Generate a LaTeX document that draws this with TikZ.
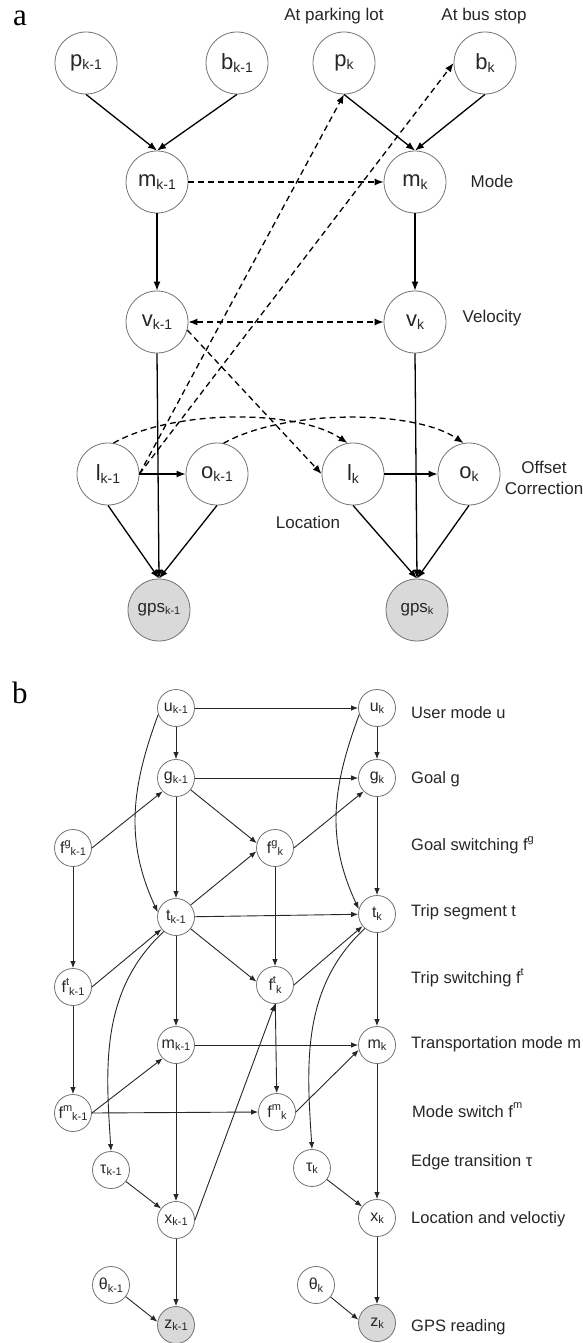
\documentclass[tikz,border=0pt]{standalone}
\usepackage{fontspec}
\setmainfont{Liberation Sans}
\newfontfamily\serifpanel{Liberation Serif}
\usetikzlibrary{arrows.meta}
\newcommand\bigsub[1]{\raisebox{-0.12em}{\fontsize{14}{16}\selectfont #1}}
\newcommand\gsub[1]{\raisebox{-0.12em}{\fontsize{11}{13}\selectfont #1}}
\newcommand\smsub[1]{\raisebox{-0.15em}{\fontsize{11}{13}\selectfont #1}}
\newcommand\smsup[1]{\raisebox{0.45em}{\fontsize{11}{13}\selectfont #1}}
\newcommand\lblsup[1]{\raisebox{0.5em}{\fontsize{11}{13}\selectfont #1}}
\begin{document}
\begin{tikzpicture}[x=1pt,y=-1pt,
 anode/.style={circle,draw=black!55,line width=0.8pt,minimum size=62pt,inner sep=0pt,font=\fontsize{22}{26}\selectfont,text=black!85},
 bnode/.style={circle,draw=black!55,line width=0.8pt,minimum size=37pt,inner sep=0pt,font=\fontsize{16}{19}\selectfont,text=black!85},
 obs/.style={fill=black!15},
 aarr/.style={-{Latex[length=9pt,width=7pt]},line width=1.3pt},
 adash/.style={aarr,dash pattern=on 6pt off 4pt},
 adashboth/.style={{Latex[length=9pt,width=7pt]}-{Latex[length=9pt,width=7pt]},line width=1.3pt,dash pattern=on 6pt off 4pt},
 barr/.style={-{Latex[length=7pt,width=5.5pt]},line width=0.9pt,draw=black!85},
 alabel/.style={font=\fontsize{17}{21}\selectfont,align=center,text=black!85},
 blabel/.style={font=\fontsize{16.5}{20}\selectfont,anchor=west,inner sep=0pt,text=black!85},
 panel/.style={font=\serifpanel\fontsize{31}{33}\selectfont,inner sep=0pt}
]
\useasboundingbox (0,0) rectangle (583,1343);

% ---------------- panel a ----------------
\node[panel] (pa) at (20,18) {a};
\node[alabel] (lpark) at (334,16) {At parking lot};
\node[alabel] (lbus) at (484,16) {At bus stop};
\node[alabel] (lmode) at (492,181) {Mode};
\node[alabel] (lvel) at (492,318) {Velocity};
\node[alabel] (lloc) at (308,522) {Location};
\node[alabel] (loff) at (544,478) {Offset\\Correction};

\node[anode] (p1) at (86,63) {p\bigsub{k-1}};
\node[anode] (b1) at (237,63) {b\bigsub{k-1}};
\node[anode] (p2) at (344,63) {p\bigsub{k}};
\node[anode] (b2) at (485,63) {b\bigsub{k}};
\node[anode] (m1) at (157,182) {m\bigsub{k-1}};
\node[anode] (m2) at (415,182) {m\bigsub{k}};
\node[anode] (v1) at (157,322) {v\bigsub{k-1}};
\node[anode] (v2) at (415,322) {v\bigsub{k}};
\node[anode] (l1) at (108,474) {l\bigsub{k-1}};
\node[anode] (o1) at (217,474) {o\bigsub{k-1}};
\node[anode] (l2) at (353,474) {l\bigsub{k}};
\node[anode] (o2) at (469,474) {o\bigsub{k}};
\node[anode,obs,font=\fontsize{17}{20}\selectfont] (gps1) at (159,610) {gps\gsub{k-1}};
\node[anode,obs,font=\fontsize{17}{20}\selectfont] (gps2) at (417,610) {gps\gsub{k}};

\draw[aarr] (p1.south) -- (m1.north);
\draw[aarr] (b1.south) -- (m1.north);
\draw[aarr] (p2.south) -- (m2.north);
\draw[aarr] (b2.south) -- (m2.north);
\draw[adash] (m1) -- (m2);
\draw[aarr] (m1) -- (v1);
\draw[aarr] (m2) -- (v2);
\draw[adashboth] (v1) -- (v2);
\draw[adash] (v1.-15) -- (l2.west);
\draw[adash] (l1.east) -- (p2.south);
\draw[adash] (l1.east) -- (b2.west);
\draw[adash] (l1.80) .. controls +(60,-34) and +(-50,-34) .. (l2.100);
\draw[adash] (o1.78) .. controls +(60,-34) and +(-50,-34) .. (o2.100);
\draw[aarr] (l1) -- (o1);
\draw[aarr] (l2) -- (o2);
\draw[aarr] (v1.south) -- (gps1.north);
\draw[aarr] (l1.south) -- (gps1.north);
\draw[aarr] (o1.south) -- (gps1.north);
\draw[aarr] (v2.south) -- (gps2.north);
\draw[aarr] (l2.south) -- (gps2.north);
\draw[aarr] (o2.south) -- (gps2.north);

% ---------------- panel b ----------------
\node[panel] (pb) at (20,693) {b};
\node[blabel] (lu) at (411,713) {User mode u};
\node[blabel] (lg) at (411,779) {Goal g};
\node[blabel] (lfg) at (411,845) {Goal switching f\lblsup{g}};
\node[blabel] (lt) at (411,912) {Trip segment t};
\node[blabel] (lft) at (411,978) {Trip switching f\lblsup{t}};
\node[blabel] (lm) at (411,1044) {Transportation mode m};
\node[blabel] (lfm) at (412,1110) {Mode switch f\lblsup{m}};
\node[blabel] (ltau) at (411,1162) {Edge transition τ};
\node[blabel] (lx) at (411,1219) {Location and veloctiy};
\node[blabel] (lz) at (411,1327) {GPS reading};

\node[bnode] (u1) at (176,708) {u\smsub{k-1}};
\node[bnode] (u2) at (377,708) {u\smsub{k}};
\node[bnode] (g1) at (176,778) {g\smsub{k-1}};
\node[bnode] (g2) at (377,778) {g\smsub{k}};
\node[bnode] (fg1) at (73,848) {f\smsup{g}\smsub{k-1}};
\node[bnode] (fg2) at (275,848) {f\smsup{g}\smsub{k}};
\node[bnode] (t1) at (176,917) {t\smsub{k-1}};
\node[bnode] (t2) at (377,914) {t\smsub{k}};
\node[bnode] (ft1) at (73,987) {f\smsup{t}\smsub{k-1}};
\node[bnode] (ft2) at (275,985) {f\smsup{t}\smsub{k}};
\node[bnode] (bm1) at (176,1045) {m\smsub{k-1}};
\node[bnode] (bm2) at (377,1045) {m\smsub{k}};
\node[bnode] (fm1) at (73,1113) {f\smsup{m}\smsub{k-1}};
\node[bnode] (fm2) at (277,1112) {f\smsup{m}\smsub{k}};
\node[bnode] (tau1) at (111,1170) {τ\smsub{k-1}};
\node[bnode] (tau2) at (312,1168) {τ\smsub{k}};
\node[bnode] (x1) at (176,1220) {x\smsub{k-1}};
\node[bnode] (x2) at (377,1218) {x\smsub{k}};
\node[bnode] (th1) at (111,1285) {θ\smsub{k-1}};
\node[bnode] (th2) at (316,1285) {θ\smsub{k}};
\node[bnode,obs] (z1) at (176,1325) {z\smsub{k-1}};
\node[bnode,obs] (z2) at (377,1323) {z\smsub{k}};

\draw[barr] (u1) -- (u2);
\draw[barr] (u1) -- (g1);
\draw[barr] (u2) -- (g2);
\draw[barr] (u1.200) .. controls +(-27,73) and +(-33,-71) .. (t1.165);
\draw[barr] (u2.200) .. controls +(-27,73) and +(-33,-71) .. (t2.165);
\draw[barr] (g1) -- (g2);
\draw[barr] (g1) -- (t1);
\draw[barr] (g1) -- (fg2.165);
\draw[barr] (fg1.east) -- (g1.225);
\draw[barr] (fg2.east) -- (g2.225);
\draw[barr] (fg1) -- (ft1);
\draw[barr] (fg2) -- (ft2);
\draw[barr] (g2) -- (t2);
\draw[barr] (t1) -- (t2);
\draw[barr] (t1) -- (fg2.190);
\draw[barr] (t1) -- (ft2.170);
\draw[barr] (ft1.east) -- (t1.220);
\draw[barr] (ft2.east) -- (t2.220);
\draw[barr] (ft1) -- (fm1);
\draw[barr] (ft2) -- (fm2);
\draw[barr] (t1) -- (bm1);
\draw[barr] (t2) -- (bm2);
\draw[barr] (t1.230) .. controls +(-65,60) and +(-5,-80) .. (tau1.north);
\draw[barr] (t2.230) .. controls +(-65,60) and +(-5,-80) .. (tau2.north);
\draw[barr] (x1.east) -- (ft2.south);
\draw[barr] (bm1) -- (bm2);
\draw[barr] (bm1) -- (x1);
\draw[barr] (fm1.east) -- (bm1.225);
\draw[barr] (fm1.east) -- (fm2.west);
\draw[barr] (fm2.east) -- (bm2.195);
\draw[barr] (bm2) -- (x2);
\draw[barr] (tau1) -- (x1);
\draw[barr] (tau2) -- (x2);
\draw[barr] (x1) -- (z1);
\draw[barr] (x2) -- (z2);
\draw[barr] (th1) -- (z1.170);
\draw[barr] (th2) -- (z2.170);
\end{tikzpicture}
\end{document}
